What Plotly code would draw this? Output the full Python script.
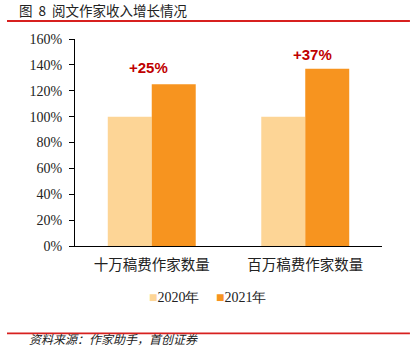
import plotly.graph_objects as go

categories = ["十万稿费作家数量", "百万稿费作家数量"]
series_names = ["2020年", "2021年"]
values_2020 = [100, 100]
values_2021 = [125, 137]
growth_labels = ["+25%", "+37%"]
y_ticks = [0, 20, 40, 60, 80, 100, 120, 140, 160]

colors = ["#FDD596", "#F7941F"]
serif = "Times New Roman, Liberation Serif, serif"

fig = go.Figure()
for name, vals, c in zip(series_names, [values_2020, values_2021], colors):
    fig.add_trace(go.Bar(x=categories, y=vals, name=name, showlegend=False,
                         marker=dict(color=c, line=dict(width=0))))

# growth labels above each pair
label_y = [138, 148]
shifts = [-3, 7]
for cat, txt, yy, sx in zip(categories, growth_labels, label_y, shifts):
    fig.add_annotation(x=cat, y=yy, text=txt, showarrow=False, xshift=sx,
                       font=dict(family="Liberation Sans, Arial, sans-serif", size=15,
                                 color="#C00000", weight="bold"))

# compact legend below the axis
legend_x = [0.235, 0.452]
for name, c, lx in zip(series_names, colors, legend_x):
    fig.add_annotation(xref="paper", yref="paper", x=lx, y=-0.25, xanchor="left", yanchor="middle",
                       text=f"<span style='color:{c}'>■</span>{name}", showarrow=False,
                       font=dict(family=serif, size=14, color="#222222"))

# title and source
fig.add_annotation(xref="paper", yref="paper", x=-0.19, y=1.14, xanchor="left", yanchor="middle",
                   text="图  8  阅文作家收入增长情况", showarrow=False,
                   font=dict(family="Noto Sans CJK SC", size=13.5, color="#222222"))
fig.add_annotation(xref="paper", yref="paper", x=-0.155, y=-0.447, xanchor="left", yanchor="middle",
                   text="<i>资料来源：作家助手，首创证券</i>", showarrow=False,
                   font=dict(family="Noto Sans CJK SC", size=12, color="#222222"))

for yy in (1.087, -0.422):
    fig.add_shape(type="line", xref="paper", yref="paper", x0=-0.2215, x1=1.091, y0=yy, y1=yy,
                  line=dict(color="#D7201F", width=1.8))

fig.update_layout(
    width=415, height=347,
    margin=dict(l=75, r=33, t=39, b=101),
    paper_bgcolor="white", plot_bgcolor="white",
    barmode="group", bargap=0.427, bargroupgap=0,
    showlegend=False,
    xaxis=dict(showline=True, linecolor="#000000", linewidth=1, ticks="", ticklabelstandoff=6,
               tickfont=dict(family="Noto Sans CJK SC", size=14.5, color="#222222"), fixedrange=True),
    yaxis=dict(range=[0, 160], tickvals=y_ticks, ticktext=[f"{v}%" for v in y_ticks],
               showgrid=False, zeroline=False, showline=True, linecolor="#000000", linewidth=1,
               ticks="outside", ticklen=5, tickcolor="#000000", ticklabelstandoff=4,
               tickfont=dict(family=serif, size=14, color="#222222")),
)

fig.write_html("out.html")
